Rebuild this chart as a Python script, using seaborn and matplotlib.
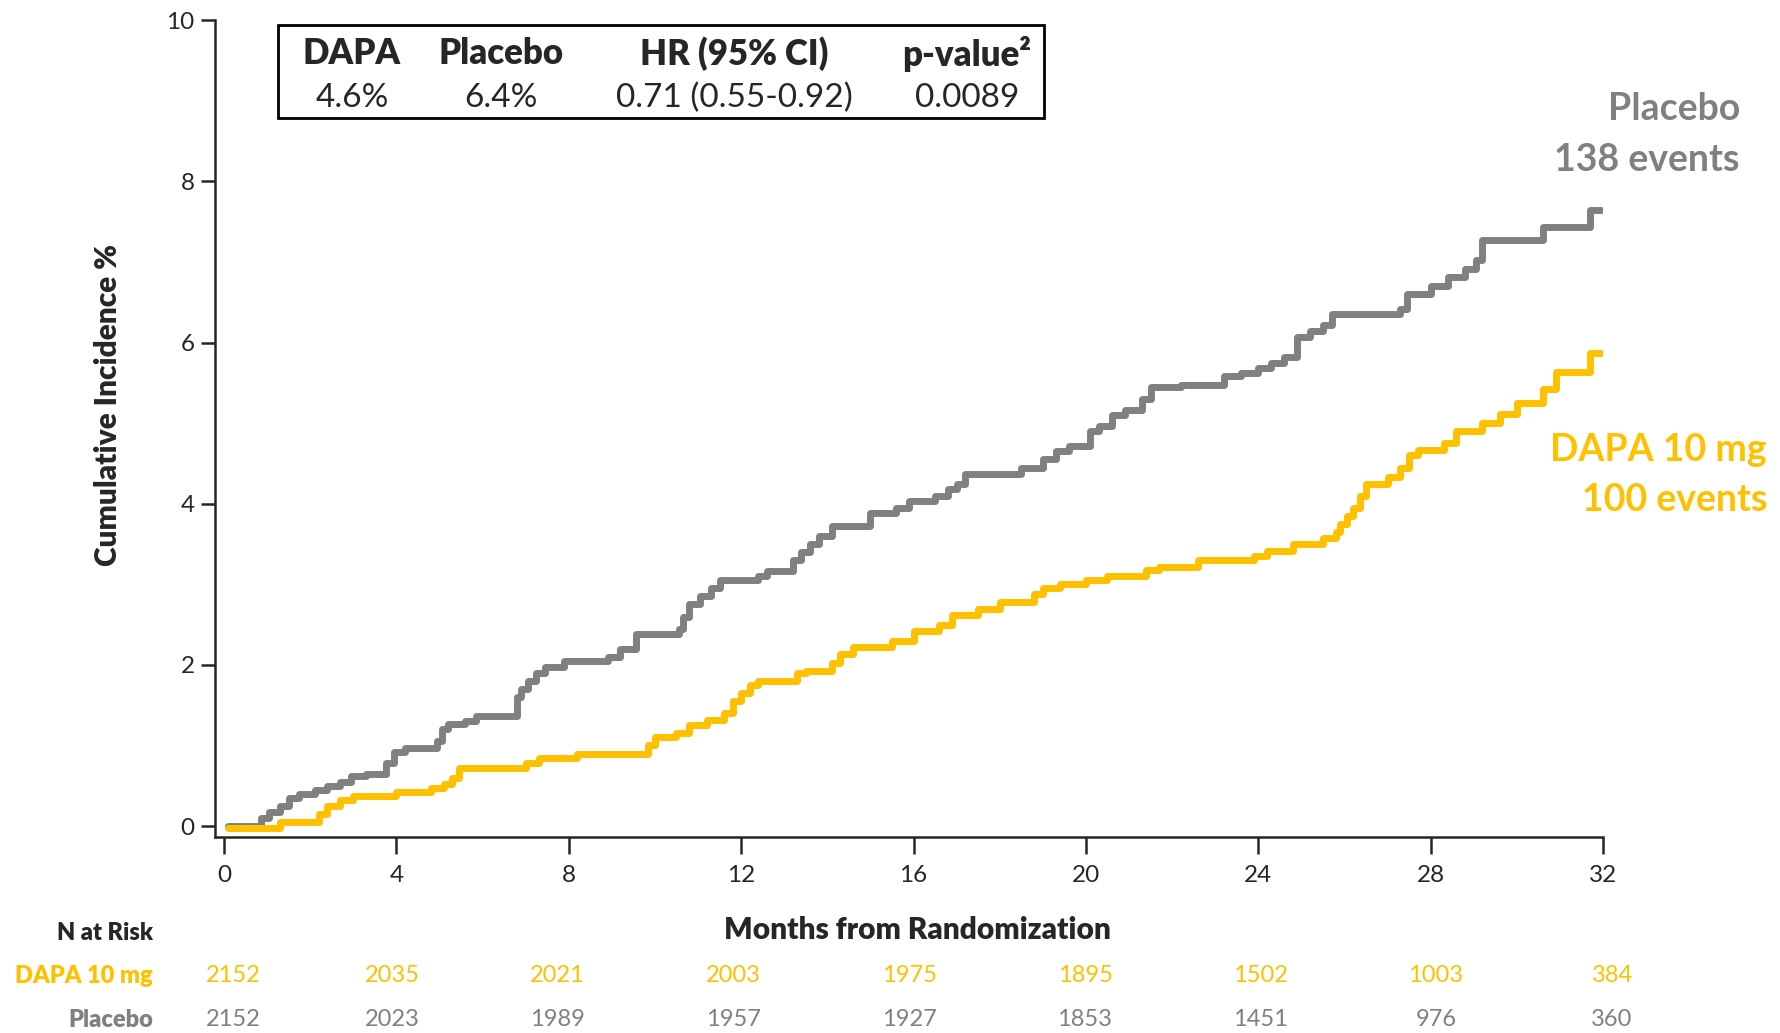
import pandas as pd
import numpy as np
import matplotlib.pyplot as plt
import seaborn as sns
from matplotlib.patches import Rectangle

# Kaplan-Meier style cumulative incidence (%)
placebo_t = [0.1, 0.85, 1.05, 1.3, 1.5, 1.75, 2.1, 2.4, 2.7, 2.95, 3.3, 3.75, 3.95, 4.2, 4.95,
             5.05, 5.2, 5.6, 5.85, 6.8, 6.9, 7.05, 7.25, 7.45, 7.9, 8.9, 9.2, 9.55, 10.55, 10.65,
             10.8, 11.05, 11.3, 11.5, 12.4, 12.6, 13.2, 13.4, 13.6, 13.8, 14.1, 15.0, 15.6, 15.9,
             16.5, 16.8, 17.0, 17.2, 18.5, 19.0, 19.3, 19.6, 20.1, 20.3, 20.6, 20.9, 21.3, 21.5,
             22.2, 23.2, 23.6, 24.0, 24.3, 24.6, 24.9, 25.2, 25.5, 25.7, 27.3, 27.45, 28.0, 28.4,
             28.8, 29.05, 29.2, 30.6, 31.7, 31.95]
placebo_v = [0.0, 0.1, 0.17, 0.25, 0.35, 0.4, 0.45, 0.5, 0.55, 0.62, 0.65, 0.78, 0.92, 0.97, 1.05,
             1.2, 1.27, 1.3, 1.37, 1.6, 1.7, 1.8, 1.9, 1.97, 2.05, 2.1, 2.2, 2.38, 2.45, 2.6,
             2.75, 2.85, 2.95, 3.05, 3.1, 3.17, 3.3, 3.4, 3.5, 3.6, 3.72, 3.88, 3.95, 4.03,
             4.1, 4.18, 4.25, 4.37, 4.45, 4.55, 4.65, 4.72, 4.9, 4.97, 5.1, 5.17, 5.3, 5.45,
             5.48, 5.58, 5.62, 5.68, 5.75, 5.82, 6.07, 6.15, 6.22, 6.35, 6.42, 6.6, 6.7, 6.82,
             6.92, 7.02, 7.27, 7.43, 7.65, 7.65]

dapa_t = [0.1, 1.3, 2.2, 2.4, 2.7, 3.0, 4.0, 4.8, 5.1, 5.3, 5.45, 7.0, 7.3, 8.2, 9.85, 10.0,
          10.5, 10.8, 11.2, 11.6, 11.8, 12.0, 12.2, 12.4, 13.3, 13.5, 14.1, 14.3, 14.6, 15.5,
          16.0, 16.6, 16.9, 17.5, 18.0, 18.8, 19.0, 19.4, 20.0, 20.5, 21.4, 21.7, 22.6, 23.9,
          24.2, 24.8, 25.5, 25.8, 25.9, 26.05, 26.2, 26.35, 26.5, 27.0, 27.3, 27.5, 27.7, 28.3,
          28.6, 29.2, 29.6, 30.0, 30.6, 30.9, 31.7, 31.95]
dapa_v = [-0.03, 0.05, 0.15, 0.25, 0.32, 0.37, 0.42, 0.47, 0.52, 0.6, 0.72, 0.78, 0.85, 0.9, 1.0, 1.1,
          1.15, 1.25, 1.32, 1.4, 1.55, 1.65, 1.75, 1.8, 1.9, 1.93, 2.03, 2.13, 2.22, 2.3,
          2.42, 2.5, 2.62, 2.7, 2.78, 2.88, 2.95, 3.0, 3.06, 3.1, 3.18, 3.22, 3.3, 3.35,
          3.42, 3.5, 3.57, 3.65, 3.75, 3.85, 3.95, 4.1, 4.25, 4.33, 4.45, 4.6, 4.67, 4.75,
          4.9, 5.0, 5.12, 5.25, 5.42, 5.63, 5.87, 5.87]

# numbers at risk table
risk_dapa = [2152, 2035, 2021, 2003, 1975, 1895, 1502, 1003, 384]
risk_placebo = [2152, 2023, 1989, 1957, 1927, 1853, 1451, 976, 360]
risk_col_px = [233, 392, 557, 733, 909, 1085, 1260, 1436, 1612]  # column centres, pixels

# summary box
box_headers = ["DAPA", "Placebo", "HR (95% CI)", "p-value\u00b2"]
box_values = ["4.6%", "6.4%", "0.71 (0.55-0.92)", "0.0089"]

GOLD = "#FFC000"
GREY = "#808080"

df = pd.concat([
    pd.DataFrame({"month": placebo_t, "inc": placebo_v, "arm": "Placebo"}),
    pd.DataFrame({"month": dapa_t, "inc": dapa_v, "arm": "DAPA 10 mg"}),
])

sns.set_style("ticks")
plt.rcParams["font.family"] = ["Lato", "DejaVu Sans"]

W, H = 1780, 1033
fig = plt.figure(figsize=(W / 100, H / 100), dpi=100)
ax = fig.add_axes([215.4 / W, 0.1894, (1603 - 215.4) / W, 0.9803 - 0.1894])

sns.lineplot(data=df, x="month", y="inc", hue="arm", palette={"Placebo": GREY, "DAPA 10 mg": GOLD},
             drawstyle="steps-post", estimator=None, linewidth=5, legend=False, ax=ax)

ax.set_xlim(-0.2, 32)
ax.set_ylim(-0.14, 10)
ax.set_xticks(range(0, 33, 4))
ax.set_yticks(range(0, 11, 2))
ax.set_xlabel("")
ax.set_ylabel("")
sns.despine(ax=ax)
for s in ["left", "bottom"]:
    ax.spines[s].set_linewidth(1.8)
ax.tick_params(axis="x", length=12, width=1.8, labelsize=17.5, pad=8)
ax.tick_params(axis="y", length=10, width=1.8, labelsize=17.5, pad=5)

fig.text(108 / W, 1 - 405 / H, "Cumulative Incidence %", rotation=90, ha="center", va="center",
         fontsize=21.5, fontweight="heavy")
fig.text(917 / W, 1 - 930 / H, "Months from Randomization", ha="center", va="center",
         fontsize=21.5, fontweight="heavy")

# curve labels
ax.text(1740 / W, 1 - 109 / H, "Placebo", transform=fig.transFigure, ha="right", va="center",
        fontsize=27, fontweight="bold", color=GREY)
ax.text(1740 / W, 1 - 160 / H, "138 events", transform=fig.transFigure, ha="right", va="center",
        fontsize=27, fontweight="bold", color=GREY)
ax.text(1767 / W, 1 - 450 / H, "DAPA 10 mg", transform=fig.transFigure, ha="right", va="center",
        fontsize=27, fontweight="bold", color=GOLD)
ax.text(1767 / W, 1 - 500 / H, "100 events", transform=fig.transFigure, ha="right", va="center",
        fontsize=27, fontweight="bold", color=GOLD)

# summary box
fig.patches.append(Rectangle((278 / W, 1 - 118 / H), (1044 - 278) / W, (118 - 25) / H,
                             transform=fig.transFigure, fill=False, lw=2, ec="black"))
for cx, hdr, val in zip([352, 501, 734, 967], box_headers, box_values):
    fig.text(cx / W, 1 - 54 / H, hdr, ha="center", va="center", fontsize=25, fontweight="heavy")
    fig.text(cx / W, 1 - 98 / H, val, ha="center", va="center", fontsize=24)

# N at risk
fig.text(153 / W, 1 - 933 / H, "N at Risk", ha="right", va="center", fontsize=17, fontweight="heavy")
fig.text(153 / W, 1 - 976 / H, "DAPA 10 mg", ha="right", va="center", fontsize=17,
         fontweight="heavy", color=GOLD)
fig.text(153 / W, 1 - 1020 / H, "Placebo", ha="right", va="center", fontsize=17,
         fontweight="heavy", color=GREY)
for px, nd, npb in zip(risk_col_px, risk_dapa, risk_placebo):
    fig.text(px / W, 1 - 976 / H, str(nd), ha="center", va="center", fontsize=17, color=GOLD)
    fig.text(px / W, 1 - 1020 / H, str(npb), ha="center", va="center", fontsize=17, color=GREY)

fig.savefig("out.png", dpi=100)
